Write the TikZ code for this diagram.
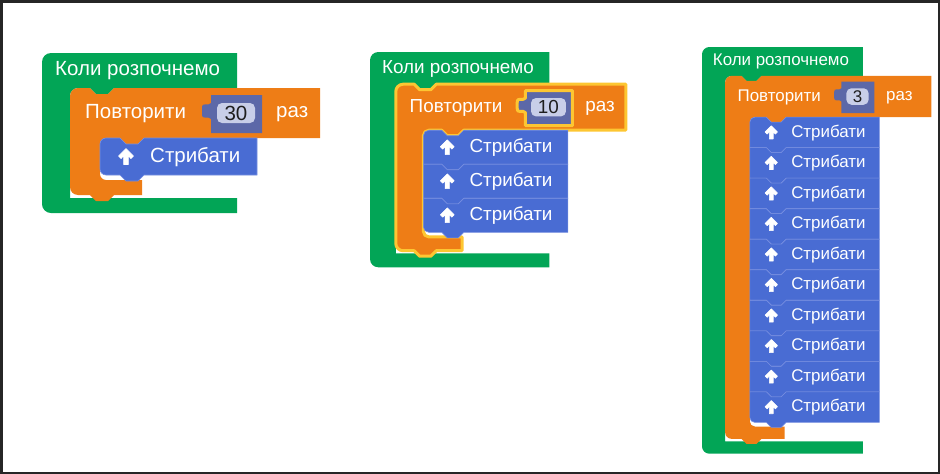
\documentclass[tikz,border=0pt]{standalone}
\usepackage{fontspec}
\setmainfont{Liberation Sans}

\definecolor{startgreen}{RGB}{2,165,86}
\definecolor{looporange}{RGB}{238,125,22}
\definecolor{jumpblue}{RGB}{73,108,211}
\definecolor{jumpedge}{RGB}{118,142,224}
\definecolor{socketblue}{RGB}{92,104,168}
\definecolor{fieldgrey}{RGB}{200,206,232}
\definecolor{countblack}{RGB}{30,30,30}
\definecolor{selyellow}{RGB}{253,198,50}

\tikzset{
  blocktext/.style={text=white, inner sep=0pt, anchor=west,
    font=\fontsize{20.5}{24}\selectfont},
  countfield/.style={fill=fieldgrey, rounded corners=5, minimum height=20,
    inner sep=0pt, text=countblack, font=\fontsize{20.5}{24}\selectfont},
  pickedloop/.style={draw=selyellow, line width=3, line join=round},
  jumpblock/.style={fill=jumpblue, draw=jumpedge, line width=0.6},
}

% #1 name, #2 #3 corner of the start block, #4 scale, #5 jumps,
% #6 repeat count, #7 socket width, #8 extra style of the loop
\newcommand{\drawprogram}[8]{%
\begin{scope}[shift={(#2,#3)}, scale=#4, transform shape]
  \pgfmathsetmacro\stackbot{85+37*#5}
  \pgfmathsetmacro\armtopy{\stackbot+5}
  \pgfmathsetmacro\loopbot{\stackbot+20}
  \pgfmathsetmacro\greenin{\loopbot+3}
  \pgfmathsetmacro\greenbot{\loopbot+18}

  % start block
  \fill[startgreen] (0,9) .. controls (0,4) and (4,0) .. (9,0)
    -- (195,0) -- (195,35) -- (72,35) -- (66,41) -- (54,41) -- (48,35) -- (36,35)
    .. controls (31.6,35) and (28,38.6) .. (28,43) -- (28,\greenin) -- (195,\greenin)
    -- (195,\greenbot) -- (9,\greenbot)
    .. controls (4,\greenbot) and (0,\greenbot-4) .. (0,\greenbot-9) -- cycle;
  \node[blocktext] (#1-start) at (13,18) {Коли розпочнемо};

  % repeat block
  \path[fill=looporange, #8] (28,43) .. controls (28,38.6) and (31.6,35) .. (36,35)
    -- (48,35) -- (54,41) -- (66,41) -- (72,35) -- (278,35) -- (278,85)
    -- (102,85) -- (96,91) -- (84,91) -- (78,85) -- (64,85)
    .. controls (60.7,85) and (58,87.7) .. (58,91) -- (58,\armtopy-6)
    .. controls (58,\armtopy-2.7) and (60.7,\armtopy) .. (64,\armtopy)
    -- (100,\armtopy) -- (100,\loopbot) -- (72,\loopbot) -- (66,\loopbot+6)
    -- (54,\loopbot+6) -- (48,\loopbot) -- (36,\loopbot)
    .. controls (31.6,\loopbot) and (28,\loopbot-3.6) .. (28,\loopbot-8) -- cycle;
  \node[blocktext] (#1-repeat) at (43,61) {Повторити};

  % count socket
  \path[fill=socketblue, #8] (169,42) -- (169+#7,42) -- (169+#7,80) -- (169,80)
    -- (169,66) .. controls (166,62) and (160,68) .. (160,61) -- (160,55)
    .. controls (160,48) and (166,54) .. (169,50) -- cycle;
  \node[countfield, minimum width=#7-13] (#1-count) at (168.5+#7/2,60) {#6};
  \node[blocktext] (#1-times) at (183+#7,61) {раз};

  % jump blocks
  \foreach \k in {1,...,#5} {
    \pgfmathsetmacro\blocktop{85+37*(\k-1)}
    \pgfmathsetmacro\rtl{ifthenelse(\k==1,6,0)}
    \pgfmathsetmacro\rbl{ifthenelse(\k==#5,6,0)}
    \path[jumpblock] (58,\blocktop+\rtl)
      .. controls (58,\blocktop+0.45*\rtl) and (58+0.45*\rtl,\blocktop) .. (58+\rtl,\blocktop)
      -- (78,\blocktop) -- (84,\blocktop+6) -- (96,\blocktop+6) -- (102,\blocktop)
      -- (215,\blocktop) -- (215,\blocktop+37) -- (102,\blocktop+37)
      -- (96,\blocktop+43) -- (84,\blocktop+43) -- (78,\blocktop+37)
      -- (58+\rbl,\blocktop+37)
      .. controls (58+0.45*\rbl,\blocktop+37) and (58,\blocktop+37-0.45*\rbl) .. (58,\blocktop+37-\rbl)
      -- cycle;
    \filldraw[white, line width=0.6, line join=round, shift={(84,\blocktop+18.5)}]
      (0,-8) -- (7.5,-0.5) -- (4.95,2.05) -- (2.3,-0.7) -- (2.3,8) -- (-2.3,8)
      -- (-2.3,-0.7) -- (-4.95,2.05) -- (-7.5,-0.5) -- cycle;
    \node[blocktext] (#1-jump\k) at (108,\blocktop+19) {Стрибати};
  }
\end{scope}}

\begin{document}
\begin{tikzpicture}[x=1pt, y=-1pt]
  \useasboundingbox (0,0) rectangle (940,474);

  % frame
  \draw[black!85, line width=2.5] (1.25,1.25) rectangle (938.75,472.75);

  % the three programs
  \drawprogram{first}{42}{53}{1}{1}{30}{51}{}
  \drawprogram{second}{370}{52}{0.92}{3}{10}{51}{pickedloop}
  \drawprogram{third}{702}{47}{0.825}{10}{3}{40}{}

\end{tikzpicture}
\end{document}
